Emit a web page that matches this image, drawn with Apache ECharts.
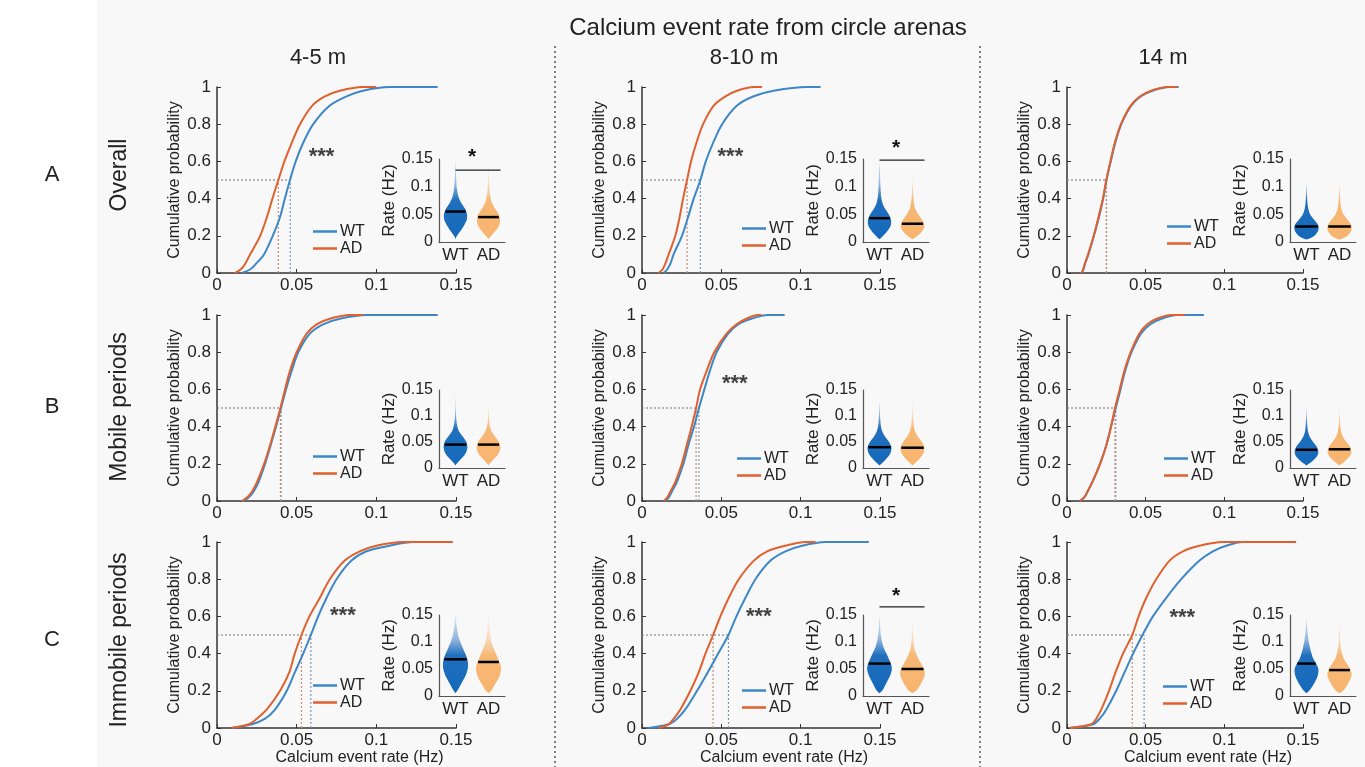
<!DOCTYPE html>
<html><head><meta charset="utf-8">
<script src="https://cdn.jsdelivr.net/npm/echarts@6/dist/echarts.min.js"></script>
<style>html,body{margin:0;padding:0;background:#fff}#c{width:1365px;height:767px}</style>
</head><body><div id="c"></div>
<script>
// ---------------- DATA ----------------
const TITLE = 'Calcium event rate from circle arenas';
const COLS = ['4-5 m', '8-10 m', '14 m'];
const ROWS = ['Overall', 'Mobile periods', 'Immobile periods'];
const ROW_LETTERS = ['A', 'B', 'C'];
const GROUPS = ['WT', 'AD'];
const X_TICKS = [0, 0.05, 0.1, 0.15];
const Y_TICKS = [0, 0.2, 0.4, 0.6, 0.8, 1];
const INSET_TICKS = [0, 0.05, 0.1, 0.15];
// cumulative probability levels at which the curves were read (last = end of the flat tail)
const PROBS = [0, 0.02, 0.05, 0.1, 0.2, 0.3, 0.4, 0.5, 0.6, 0.7, 0.8, 0.9, 0.95, 0.98, 1, 1];
// event-rate quantiles (Hz) per panel, rows A,B,C x cols 4-5m, 8-10m, 14m
const WT_A1 = [0.0156, 0.021, 0.0245, 0.0295, 0.035, 0.0395, 0.0426, 0.0458, 0.0494, 0.0541, 0.0604, 0.0708, 0.0813, 0.0916, 0.108, 0.1385];
const AD_A1 = [0.0114, 0.015, 0.0177, 0.0208, 0.0271, 0.0313, 0.0348, 0.0385, 0.0423, 0.0469, 0.0521, 0.0598, 0.0677, 0.0771, 0.0916, 0.100];
const WT_A2 = [0.0136, 0.016, 0.0179, 0.0199, 0.0252, 0.029, 0.0326, 0.0368, 0.0402, 0.0448, 0.0505, 0.0599, 0.0704, 0.083, 0.104, 0.1125];
const AD_A2 = [0.0105, 0.013, 0.0147, 0.0168, 0.021, 0.0237, 0.0259, 0.0284, 0.0309, 0.0343, 0.0385, 0.0452, 0.0526, 0.0599, 0.0704, 0.0757];
const WT_A3 = [0.0094, 0.0105, 0.0115, 0.0136, 0.0171, 0.0203, 0.023, 0.0251, 0.0278, 0.0307, 0.0345, 0.0408, 0.047, 0.0543, 0.0648, 0.071];
const AD_A3 = [0.0092, 0.0103, 0.0113, 0.0134, 0.017, 0.02, 0.0228, 0.025, 0.0276, 0.0304, 0.0343, 0.0405, 0.0465, 0.0535, 0.064, 0.070];
const WT_B1 = [0.0166, 0.020, 0.0229, 0.026, 0.0302, 0.0337, 0.0371, 0.0402, 0.0433, 0.0469, 0.051, 0.0583, 0.0666, 0.0771, 0.0938, 0.1385];
const AD_B1 = [0.0156, 0.019, 0.0219, 0.025, 0.0296, 0.0333, 0.0366, 0.0398, 0.0427, 0.0458, 0.05, 0.0563, 0.0625, 0.0708, 0.0833, 0.0916];
const WT_B2 = [0.0146, 0.017, 0.0188, 0.0219, 0.0261, 0.0292, 0.0328, 0.0359, 0.0393, 0.0428, 0.047, 0.0543, 0.0606, 0.069, 0.0794, 0.0899];
const AD_B2 = [0.0136, 0.016, 0.0178, 0.0209, 0.0251, 0.0282, 0.0313, 0.0341, 0.0366, 0.0408, 0.0455, 0.0533, 0.0596, 0.0658, 0.0731, 0.0752];
const WT_B3 = [0.008, 0.011, 0.013, 0.016, 0.021, 0.025, 0.028, 0.031, 0.034, 0.037, 0.041, 0.047, 0.053, 0.06, 0.07, 0.087];
const AD_B3 = [0.008, 0.011, 0.013, 0.016, 0.021, 0.025, 0.028, 0.0305, 0.0335, 0.0365, 0.0405, 0.046, 0.051, 0.057, 0.066, 0.075];
const WT_C1 = [0.009, 0.022, 0.0302, 0.0365, 0.0438, 0.0489, 0.0541, 0.0589, 0.0635, 0.0688, 0.075, 0.0844, 0.0938, 0.1083, 0.1229, 0.1479];
const AD_C1 = [0.009, 0.02, 0.025, 0.0313, 0.0396, 0.0454, 0.0488, 0.053, 0.058, 0.0646, 0.0708, 0.0802, 0.0896, 0.1, 0.1167, 0.1479];
const WT_C2 = [0.0042, 0.0168, 0.0221, 0.0273, 0.0347, 0.0415, 0.048, 0.0545, 0.0595, 0.0652, 0.0715, 0.081, 0.0904, 0.1009, 0.1157, 0.143];
const AD_C2 = [0.0105, 0.0168, 0.02, 0.0242, 0.0305, 0.0358, 0.04, 0.0448, 0.0494, 0.0547, 0.061, 0.0705, 0.0789, 0.0904, 0.103, 0.1094];
const WT_C3 = [0.0017, 0.0165, 0.0208, 0.025, 0.0313, 0.0366, 0.042, 0.048, 0.0546, 0.0631, 0.0726, 0.0842, 0.0927, 0.1011, 0.1117, 0.1456];
const AD_C3 = [0.0017, 0.0154, 0.0186, 0.0218, 0.0267, 0.0309, 0.0356, 0.0415, 0.0455, 0.0504, 0.0567, 0.0652, 0.0737, 0.0842, 0.099, 0.1456];
// medians marked with dotted guides
const MED_WT = [0.046, 0.0368, 0.0251, 0.0402, 0.0359, 0.031, 0.0589, 0.0545, 0.049];
const MED_AD = [0.0385, 0.0284, 0.025, 0.0398, 0.0341, 0.0305, 0.053, 0.0448, 0.0415];
// "***" annotations [rate, prob] (null = none)
const STARS3 = [[0.0656, 0.625], [0.0557, 0.625], null, null, [0.0585, 0.631], null, [0.079, 0.604], [0.0736, 0.597], [0.0733, 0.591]];
// inset violins: half-widths (fraction of half band) at these rate levels
const VLEVELS = [0.005, 0.01, 0.02, 0.03, 0.04, 0.05, 0.06, 0.07, 0.08, 0.09, 0.10, 0.11, 0.12, 0.13, 0.14, 0.15];
const VW_WT_A1 = [0, 0.06, 0.3, 0.52, 0.68, 0.7, 0.58, 0.36, 0.2, 0.12, 0.07, 0.05, 0.035, 0.025, 0.012, 0];
const VW_AD_A1 = [0, 0.12, 0.42, 0.64, 0.7, 0.62, 0.4, 0.22, 0.12, 0.07, 0.05, 0.035, 0.02, 0.01, 0, 0];
const VW_WT_A2 = [0, 0.18, 0.48, 0.68, 0.7, 0.56, 0.34, 0.18, 0.11, 0.08, 0.06, 0.045, 0.035, 0.025, 0.012, 0];
const VW_AD_A2 = [0, 0.25, 0.6, 0.72, 0.58, 0.34, 0.17, 0.09, 0.055, 0.035, 0.02, 0.01, 0, 0, 0, 0];
const VW_WT_A3 = [0.06, 0.42, 0.7, 0.72, 0.46, 0.22, 0.11, 0.06, 0.035, 0.02, 0.01, 0, 0, 0, 0, 0];
const VW_AD_A3 = [0.06, 0.42, 0.7, 0.72, 0.48, 0.24, 0.11, 0.06, 0.035, 0.02, 0.01, 0, 0, 0, 0, 0];
const VW_WT_B1 = [0, 0.12, 0.42, 0.64, 0.72, 0.66, 0.45, 0.22, 0.11, 0.06, 0.035, 0.02, 0.012, 0.01, 0, 0];
const VW_AD_B1 = [0, 0.12, 0.42, 0.64, 0.72, 0.63, 0.4, 0.2, 0.09, 0.045, 0.025, 0.012, 0, 0, 0, 0];
const VW_WT_B2 = [0, 0.18, 0.48, 0.68, 0.72, 0.58, 0.34, 0.17, 0.09, 0.055, 0.035, 0.02, 0.012, 0, 0, 0];
const VW_AD_B2 = [0, 0.18, 0.48, 0.68, 0.72, 0.57, 0.33, 0.16, 0.085, 0.05, 0.03, 0.018, 0.01, 0, 0, 0];
const VW_WT_B3 = [0, 0.24, 0.58, 0.72, 0.64, 0.4, 0.2, 0.09, 0.055, 0.035, 0.02, 0.01, 0, 0, 0, 0];
const VW_AD_B3 = [0, 0.22, 0.56, 0.72, 0.66, 0.42, 0.21, 0.1, 0.055, 0.035, 0.02, 0.01, 0, 0, 0, 0];
const VW_WT_C1 = [0, 0.12, 0.3, 0.48, 0.64, 0.74, 0.76, 0.7, 0.57, 0.43, 0.29, 0.18, 0.12, 0.07, 0.035, 0.012];
const VW_AD_C1 = [0, 0.17, 0.36, 0.56, 0.7, 0.76, 0.7, 0.57, 0.43, 0.29, 0.18, 0.12, 0.07, 0.045, 0.022, 0];
const VW_WT_C2 = [0, 0.17, 0.35, 0.52, 0.67, 0.75, 0.69, 0.55, 0.4, 0.25, 0.16, 0.09, 0.055, 0.035, 0.022, 0];
const VW_AD_C2 = [0, 0.23, 0.46, 0.64, 0.74, 0.7, 0.52, 0.34, 0.2, 0.11, 0.07, 0.045, 0.022, 0.01, 0, 0];
const VW_WT_C3 = [0, 0.17, 0.4, 0.58, 0.7, 0.72, 0.58, 0.4, 0.29, 0.21, 0.14, 0.09, 0.055, 0.035, 0.012, 0];
const VW_AD_C3 = [0, 0.23, 0.46, 0.64, 0.74, 0.64, 0.44, 0.25, 0.14, 0.08, 0.045, 0.035, 0.022, 0.01, 0, 0];
const VMED_WT = [0.055, 0.043, 0.028, 0.045, 0.040, 0.035, 0.068, 0.060, 0.060];
const VMED_AD = [0.045, 0.033, 0.028, 0.045, 0.039, 0.036, 0.063, 0.050, 0.048];
// significance bracket in insets: [bracket level, star level] or null
const SIG = [[0.13, 0.153], [0.148, 0.17], null, null, null, null, null, [0.165, 0.185], null];

// ---------------- LAYOUT ----------------
const CURVES = [[WT_A1, AD_A1], [WT_A2, AD_A2], [WT_A3, AD_A3], [WT_B1, AD_B1], [WT_B2, AD_B2], [WT_B3, AD_B3], [WT_C1, AD_C1], [WT_C2, AD_C2], [WT_C3, AD_C3]];
const VIOLINS = [[VW_WT_A1, VW_AD_A1], [VW_WT_A2, VW_AD_A2], [VW_WT_A3, VW_AD_A3], [VW_WT_B1, VW_AD_B1], [VW_WT_B2, VW_AD_B2], [VW_WT_B3, VW_AD_B3], [VW_WT_C1, VW_AD_C1], [VW_WT_C2, VW_AD_C2], [VW_WT_C3, VW_AD_C3]];
const COL_LEFT = [217, 642, 1067];
const COL_W = [239, 238, 236];
const ROW_TOP = [87, 315, 542];
const ROW_H = 186;
const INSET_LEFT = [439, 863, 1290];
const INSET_W = 66;
const INSET_TOP = [159, 390, 615];
const INSET_H = [83, 78, 81];
const LEG = [[91, 43], [95, 46], [95, 48], [91, 46], [90, 44], [92, 44], [91, 44], [95, 39], [91, 43]];
const C_WT = '#3d87c7', C_AD = '#e0612f';
const V_WT = [20, 104, 186], V_AD = [247, 180, 110];
const FONT = 'Arial, "Liberation Sans", Helvetica, sans-serif';
const TXT = '#222';

const grid = [], xAxis = [], yAxis = [], series = [], legend = [], graphic = [];

graphic.push({type: 'rect', shape: {x: 97, y: 0, width: 1268, height: 767}, style: {fill: '#f8f8f8'}, z: -10, silent: true});
graphic.push({type: 'text', x: 768, y: 28, style: {text: TITLE, fill: TXT, font: '24px ' + FONT, textAlign: 'center', textVerticalAlign: 'middle'}});
const COL_CX = [318, 744, 1163];
COLS.forEach((c, i) => graphic.push({type: 'text', x: COL_CX[i], y: 58, style: {text: c, fill: TXT, font: '22px ' + FONT, textAlign: 'center', textVerticalAlign: 'middle'}}));
const ROW_CY = [175, 407, 640];
ROWS.forEach((r, i) => {
  graphic.push({type: 'text', x: 52, y: ROW_CY[i], style: {text: ROW_LETTERS[i], fill: TXT, font: '22px ' + FONT, textAlign: 'center', textVerticalAlign: 'middle'}});
  graphic.push({type: 'text', x: 120, y: ROW_CY[i], rotation: Math.PI / 2, style: {text: r, fill: TXT, font: '23px ' + FONT, textAlign: 'center', textVerticalAlign: 'middle'}});
});
[555, 980].forEach(x => graphic.push({type: 'line', shape: {x1: x, y1: 46, x2: x, y2: 767}, style: {stroke: '#555', lineWidth: 1.5, lineDash: [2, 3]}, silent: true}));

for (let p = 0; p < 9; p++) {
  const r = Math.floor(p / 3), c = p % 3;
  const gi = grid.length;
  grid.push({left: COL_LEFT[c], top: ROW_TOP[r], width: COL_W[c], height: ROW_H});
  xAxis.push({gridIndex: gi, type: 'value', min: 0, max: 0.15, interval: 0.05,
    axisLine: {lineStyle: {color: '#333', width: 1.5}}, axisTick: {inside: true, length: 4, lineStyle: {color: '#333'}},
    splitLine: {show: false},
    axisLabel: {color: TXT, fontSize: 17, fontFamily: FONT, margin: 4, formatter: v => String(+v.toFixed(2))},
    name: r === 2 ? 'Calcium event rate (Hz)' : '', nameLocation: 'middle', nameGap: 21,
    nameTextStyle: {color: TXT, fontSize: 16, fontFamily: FONT, padding: [0, 0, 0, 46]}});
  yAxis.push({gridIndex: gi, type: 'value', min: 0, max: 1, interval: 0.2,
    axisLine: {show: true, lineStyle: {color: '#333', width: 1.5}}, axisTick: {show: true, inside: true, length: 4, lineStyle: {color: '#333'}},
    splitLine: {show: false},
    axisLabel: {color: TXT, fontSize: 17, fontFamily: FONT, margin: 6, formatter: v => String(+v.toFixed(1))},
    name: 'Cumulative probability', nameLocation: 'middle', nameGap: 34,
    nameTextStyle: {color: TXT, fontSize: 16, fontFamily: FONT}});
  // median guides
  const mW = MED_WT[p], mA = MED_AD[p], mx = Math.max(mW, mA);
  const guide = {type: 'line', xAxisIndex: gi, yAxisIndex: gi, symbol: 'none', silent: true, z: 1};
  series.push(Object.assign({}, guide, {name: 'g1', data: [[0, 0.5], [mx, 0.5]], lineStyle: {type: [2, 2], width: 1.2, color: '#8a8a8a'}}));
  series.push(Object.assign({}, guide, {name: 'g2', data: [[mW, 0], [mW, 0.5]], lineStyle: {type: [2, 2], width: 1.2, color: '#7f93b0'}}));
  series.push(Object.assign({}, guide, {name: 'g3', data: [[mA, 0], [mA, 0.5]], lineStyle: {type: [2, 2], width: 1.2, color: '#c0907a'}}));
  // CDF curves (WT drawn first, AD on top)
  const cur = CURVES[p];
  [0, 1].forEach(k => {
    series.push({type: 'line', name: GROUPS[k], xAxisIndex: gi, yAxisIndex: gi, symbol: 'none', smooth: 0.3, z: 3,
      color: k ? C_AD : C_WT, lineStyle: {width: 2, color: k ? C_AD : C_WT},
      data: cur[k].map((v, i) => [v, PROBS[i]])});
  });
  if (STARS3[p]) {
    series.push({type: 'scatter', name: 'sig', xAxisIndex: gi, yAxisIndex: gi, symbolSize: 0, silent: true,
      data: [STARS3[p]], label: {show: true, position: 'inside', formatter: '***', color: '#111', fontSize: 22, fontWeight: 'bold', fontFamily: FONT}});
  }
  legend.push({orient: 'vertical', left: COL_LEFT[c] + LEG[p][0], top: ROW_TOP[r] + ROW_H - LEG[p][1] - 12,
    data: GROUPS, icon: 'rect', itemWidth: 24, itemHeight: 2.5, itemGap: 0, selectedMode: false,
    textStyle: {color: TXT, fontSize: 16, fontFamily: FONT, lineHeight: 17, padding: [0, 0, 0, -2]}});

  // inset violin axes
  const ii = grid.length;
  grid.push({left: INSET_LEFT[c], top: INSET_TOP[r], width: INSET_W, height: INSET_H[r]});
  xAxis.push({gridIndex: ii, type: 'category', data: GROUPS, boundaryGap: true,
    axisLine: {lineStyle: {color: '#555', width: 1.2}}, axisTick: {show: false},
    axisLabel: {color: TXT, fontSize: 17, fontFamily: FONT, margin: 5, interval: 0}});
  yAxis.push({gridIndex: ii, type: 'value', min: 0, max: 0.15, interval: 0.05,
    axisLine: {show: true, lineStyle: {color: '#555', width: 1.2}}, axisTick: {show: false}, splitLine: {show: false},
    axisLabel: {color: TXT, fontSize: 16, fontFamily: FONT, margin: 6, formatter: v => String(+v.toFixed(2))},
    name: 'Rate (Hz)', nameLocation: 'middle', nameGap: 41, nameTextStyle: {color: TXT, fontSize: 17, fontFamily: FONT}});
  const vio = VIOLINS[p], meds = [VMED_WT[p], VMED_AD[p]];
  [0, 1].forEach(k => {
    const widths = vio[k], col = k ? V_AD : V_WT, med = meds[k];
    series.push({type: 'custom', name: 'v' + k, xAxisIndex: ii, yAxisIndex: ii, silent: true, z: 2,
      data: [[k]],
      renderItem: (params, api) => {
        const cat = api.value(0);
        const half = api.size([1, 0])[0] / 2;
        const pts = [];
        for (let i = 0; i < VLEVELS.length; i++) { const q = api.coord([cat, VLEVELS[i]]); pts.push([q[0] + widths[i] * half, q[1]]); }
        for (let i = VLEVELS.length - 1; i >= 0; i--) { const q = api.coord([cat, VLEVELS[i]]); pts.push([q[0] - widths[i] * half, q[1]]); }
        const top = api.coord([cat, 0.15])[1], bot = api.coord([cat, 0])[1];
        const rgb = col.join(',');
        const fill = new echarts.graphic.LinearGradient(0, top, 0, bot, [
          {offset: 0, color: 'rgba(' + rgb + ',0.1)'},
          {offset: 0.3, color: 'rgba(' + rgb + ',0.45)'},
          {offset: 0.5, color: 'rgba(' + rgb + ',0.95)'},
          {offset: 1, color: 'rgba(' + rgb + ',1)'}], true);
        let wm = 0;
        for (let i = 0; i < VLEVELS.length - 1; i++) {
          if (med >= VLEVELS[i] && med <= VLEVELS[i + 1]) { const t = (med - VLEVELS[i]) / (VLEVELS[i + 1] - VLEVELS[i]); wm = widths[i] + t * (widths[i + 1] - widths[i]); }
        }
        const qm = api.coord([cat, med]);
        return {type: 'group', children: [
          {type: 'polygon', shape: {points: pts, smooth: 0.3}, style: {fill: fill, stroke: null}},
          {type: 'line', shape: {x1: qm[0] - wm * half * 0.95, y1: qm[1], x2: qm[0] + wm * half * 0.95, y2: qm[1]}, style: {stroke: '#000', lineWidth: 2.5}}
        ]};
      }});
  });
  if (SIG[p]) {
    const s = SIG[p];
    series.push({type: 'custom', name: 'bracket', xAxisIndex: ii, yAxisIndex: ii, silent: true, clip: false, z: 4,
      data: [[0, s[0], s[1]]],
      renderItem: (params, api) => {
        const a = api.coord([0, api.value(1)]), b = api.coord([1, api.value(1)]), st = api.coord([0.5, api.value(2)]);
        return {type: 'group', children: [
          {type: 'line', shape: {x1: a[0], y1: a[1], x2: b[0] + 12, y2: b[1]}, style: {stroke: '#222', lineWidth: 1.2}},
          {type: 'text', x: (a[0] + b[0]) / 2, y: st[1], style: {text: '*', fill: '#111', font: 'bold 21px ' + FONT, textAlign: 'center', textVerticalAlign: 'middle'}}
        ]};
      }});
  }
}

const chart = echarts.init(document.getElementById('c'));
chart.setOption({animation: false, backgroundColor: '#ffffff', grid, xAxis, yAxis, series, legend, graphic});
</script>
</body></html>
